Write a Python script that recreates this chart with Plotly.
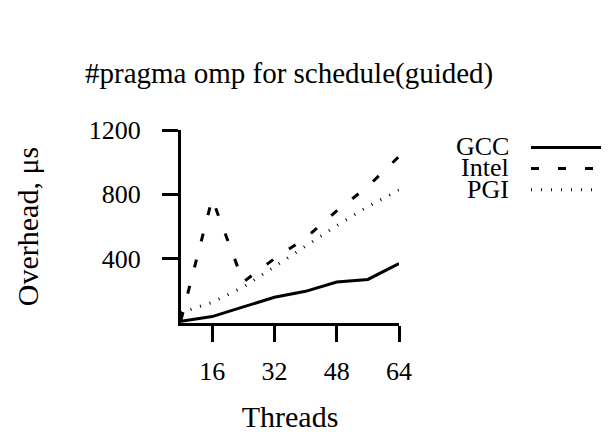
import plotly.graph_objects as go

threads = [8, 16, 24, 32, 40, 48, 56, 64]
gcc = [10, 40, 100, 160, 197, 255, 271, 370]
intel = [20, 772, 255, 400, 528, 697, 849, 1035]
pgi = [65, 128, 223, 352, 482, 606, 724, 827]

series_names = ["GCC", "Intel", "PGI"]
series_values = [gcc, intel, pgi]
dashes = ["solid", "8px,19px", "1px,9px"]

x_ticks = [16, 32, 48, 64]
y_ticks = [400, 800, 1200]

FONT = "Liberation Serif, Times New Roman, serif"
W, H = 609, 432
L, R, T, B = 173, 218, 122, 117

fig = go.Figure()
for name, vals, dash in zip(series_names, series_values, dashes):
    fig.add_trace(go.Scatter(
        x=threads, y=vals, mode="lines", name=name,
        line=dict(color="black", width=3, dash=dash),
        showlegend=False,
    ))

# legend drawn manually: label text on the left, long sample line on the right
pw = W - L - R
ph = H - T - B
label_right_px = 503
line_x0_px, line_x1_px = 523, 605
text_rows_px = [138, 159.5, 181]
line_rows_px = [139.5, 160.5, 181.7]
for name, dash, ty, ly in zip(series_names, dashes, text_rows_px, line_rows_px):
    fig.add_annotation(
        x=(label_right_px - L) / pw, y=(H - B - ty) / ph,
        xref="paper", yref="paper",
        text=name, showarrow=False, xanchor="right", yanchor="middle",
        font=dict(family=FONT, size=26, color="black"),
    )
    fig.add_shape(
        type="line", xref="paper", yref="paper",
        x0=(line_x0_px - L) / pw, x1=(line_x1_px - L) / pw,
        y0=(H - B - ly) / ph, y1=(H - B - ly) / ph,
        line=dict(color="black", width=3, dash=dash),
    )

fig.update_layout(
    width=W, height=H,
    margin=dict(l=L, r=R, t=T, b=B, pad=0),
    paper_bgcolor="white", plot_bgcolor="white",
    font=dict(family=FONT, color="black", size=26),
    title=dict(
        text="#pragma omp for schedule(guided)",
        x=77 / W, xanchor="left", xref="container",
        y=1 - 65 / H, yanchor="middle", yref="container",
        font=dict(family=FONT, size=29, color="black"),
    ),
    xaxis=dict(
        range=[8, 64], tickvals=x_ticks, ticktext=[str(v) for v in x_ticks],
        showline=True, linewidth=3, linecolor="black",
        ticks="outside", ticklen=16, tickwidth=3, tickcolor="black",
        showgrid=False, zeroline=False, automargin=False,
        ticklabelstandoff=7,
        title=dict(text="Threads", font=dict(family=FONT, size=30), standoff=21),
    ),
    yaxis=dict(
        range=[0, 1200], tickvals=y_ticks, ticktext=[str(v) for v in y_ticks],
        showline=True, linewidth=3, linecolor="black",
        ticks="outside", ticklen=16, tickwidth=3, tickcolor="black",
        showgrid=False, zeroline=False, automargin=False,
        ticklabelstandoff=16,
        title=dict(text="Overhead, μs", font=dict(family=FONT, size=30), standoff=42),
    ),
)

fig.write_html("out.html")
